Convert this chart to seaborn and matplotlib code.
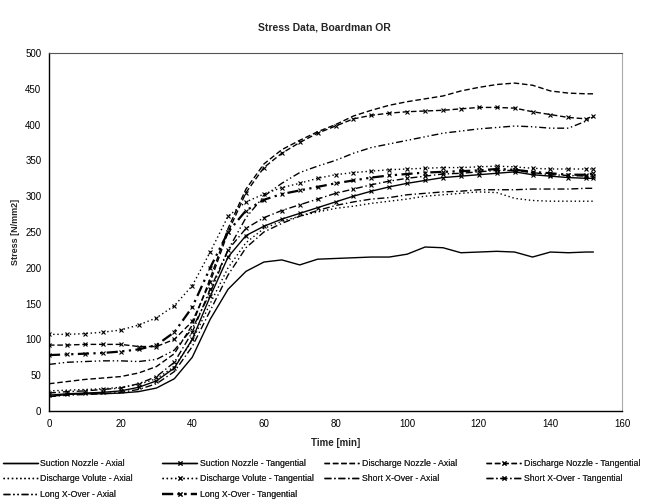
import matplotlib
matplotlib.use("Agg")
import matplotlib.pyplot as plt
import seaborn as sns

# Time axis in minutes
time_min = [0, 5, 10, 15, 20, 25, 30, 35, 40, 45, 50, 55, 60, 65, 70, 75,
            80, 85, 90, 95, 100, 105, 110, 115, 120, 125, 130, 135, 140, 145, 150, 152]

# Stress values [N/mm2]
suction_axial = [20, 23, 24, 24, 25, 27, 32, 45, 75, 128, 170, 195, 208, 211, 204, 212,
                 213, 214, 215, 215, 219, 229, 228, 221, 222, 223, 222, 215, 222, 221, 222, 222]
suction_tang = [22, 24, 25, 26, 28, 33, 42, 60, 100, 160, 215, 245, 258, 268, 276, 284,
                292, 300, 307, 313, 318, 322, 326, 328, 330, 332, 334, 330, 328, 326, 325, 325]
disch_nozzle_axial = [38, 41, 44, 46, 48, 53, 62, 80, 120, 185, 255, 310, 345, 365, 378, 390,
                      400, 412, 420, 427, 432, 436, 440, 447, 452, 456, 458, 455, 447, 444, 443, 443]
disch_nozzle_tang = [92, 92, 93, 93, 93, 90, 90, 100, 125, 180, 250, 305, 340, 360, 375, 388,
                     398, 408, 413, 416, 418, 419, 420, 422, 424, 424, 423, 418, 414, 410, 408, 412]
volute_axial = [28, 29, 30, 31, 33, 37, 45, 62, 98, 150, 200, 235, 255, 265, 272, 278,
                283, 286, 290, 293, 296, 300, 302, 304, 306, 305, 297, 294, 293, 293, 293, 293]
volute_tang = [107, 107, 108, 110, 113, 120, 130, 147, 175, 222, 272, 292, 303, 312, 318, 325,
               330, 333, 335, 337, 338, 339, 340, 340, 341, 342, 341, 339, 338, 338, 338, 338]
short_axial = [20, 22, 23, 24, 26, 30, 38, 55, 90, 140, 190, 228, 250, 262, 272, 280,
               287, 292, 296, 298, 302, 304, 306, 307, 309, 309, 309, 310, 310, 310, 311, 311]
short_tang = [25, 27, 28, 30, 32, 38, 48, 68, 110, 170, 225, 255, 270, 280, 288, 296,
              304, 310, 316, 321, 325, 328, 331, 332, 334, 336, 336, 333, 330, 329, 328, 328]
long_axial = [65, 68, 69, 70, 70, 69, 72, 85, 115, 165, 225, 270, 300, 318, 333, 342,
              350, 360, 368, 373, 378, 383, 388, 391, 394, 396, 398, 397, 395, 395, 405, 411]
long_tang = [78, 79, 80, 81, 83, 86, 92, 110, 145, 200, 250, 280, 295, 303, 308, 313,
             318, 322, 326, 329, 331, 333, 334, 335, 336, 338, 337, 334, 332, 330, 330, 332]

labels = ["Suction Nozzle - Axial", "Suction Nozzle - Tangential",
          "Discharge Nozzle - Axial", "Discharge Nozzle - Tangential",
          "Discharge Volute - Axial", "Discharge Volute - Tangential",
          "Short X-Over - Axial", "Short X-Over - Tangential",
          "Long X-Over - Axial", "Long X-Over - Tangential"]
series = [suction_axial, suction_tang, disch_nozzle_axial, disch_nozzle_tang,
          volute_axial, volute_tang, short_axial, short_tang, long_axial, long_tang]

# line styles (Excel black & white look)
dashes = [(None, None), (None, None), (4, 2), (4, 2), (1, 2), (1, 2),
          (5, 2, 1, 2), (5, 2, 1, 2), (5, 2, 1, 2, 1, 2), (5, 2, 1, 2, 1, 2)]
markers = [None, "x", None, "x", None, "x", None, "x", None, "x"]
widths = [1.0, 1.0, 1.0, 1.0, 1.0, 1.0, 1.0, 1.0, 1.0, 1.6]

sns.set_style("white")
plt.rcParams["font.family"] = ["Liberation Sans", "DejaVu Sans"]

fig = plt.figure(figsize=(6.48, 5.03), dpi=100)
ax = fig.add_axes([0.0756, 0.183, 0.8844, 0.7116])

handles = []
for vals, lab, dsh, mk, lw in zip(series, labels, dashes, markers, widths):
    sns.lineplot(x=time_min, y=vals, ax=ax, color="black", linewidth=lw,
                 marker=mk, markersize=3.5, markeredgewidth=0.8,
                 markeredgecolor="black", label=lab, legend=False)
    ln = ax.get_lines()[-1]
    if dsh[0] is not None:
        ln.set_dashes(dsh)
    handles.append(ln)

ax.set_xlim(0, 160)
ax.set_ylim(0, 500)
ax.set_xticks(range(0, 161, 20))
ax.set_yticks(range(0, 501, 50))
ax.tick_params(axis="both", labelsize=7, direction="inout", length=4, width=0.8,
               colors="black")
ax.set_xlabel("Time [min]", fontsize=7, fontweight="bold", labelpad=7)
ax.set_ylabel("Stress [N/mm2]", fontsize=6.5, fontweight="bold", labelpad=4)
fig.suptitle("Stress Data, Boardman OR", fontsize=7.5, fontweight="bold", y=0.955)

for side in ["left", "bottom"]:
    ax.spines[side].set_color("black")
    ax.spines[side].set_linewidth(1.0)
ax.spines["top"].set_color("#555555")
ax.spines["right"].set_color("#aaaaaa")

# legend laid out row by row, one column at a time
col_x = [0.004, 0.25, 0.5, 0.75]
for c in range(4):
    idx = list(range(c, len(handles), 4))
    leg = fig.legend([handles[i] for i in idx], [labels[i] for i in idx],
                     loc="upper left", bbox_to_anchor=(col_x[c], 0.088),
                     frameon=False, fontsize=6.3, handlelength=4.0,
                     handletextpad=0.3, labelspacing=0.75, borderaxespad=0,
                     borderpad=0)
    fig.add_artist(leg)

fig.savefig("out.png", dpi=100)
